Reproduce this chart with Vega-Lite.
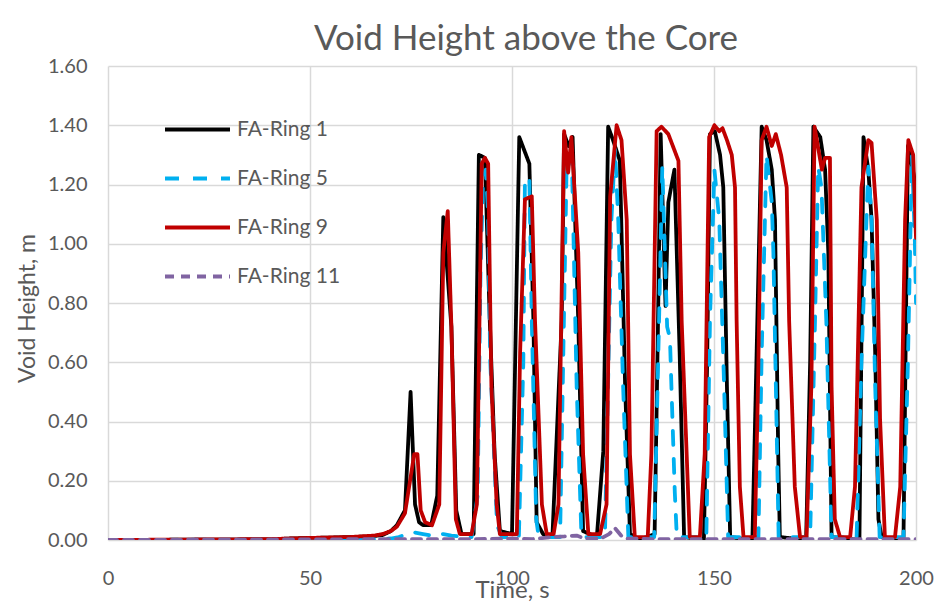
{
  "$schema": "https://vega.github.io/schema/vega-lite/v6.json",
  "width": 808,
  "height": 474,
  "autosize": {"type": "none"},
  "padding": {"left": 108, "top": 66, "right": 30, "bottom": 62},
  "background": "white",
  "config": {
    "view": {"stroke": null},
    "font": "Lato"
  },
  "title": {
    "text": "Void Height above the Core",
    "font": "Lato",
    "fontSize": 35,
    "fontWeight": "normal",
    "color": "#595959",
    "anchor": "middle",
    "dx": 14,
    "offset": -1
  },
  "data": {
    "values": [
      {"s": "FA-Ring 1", "t": 0, "v": 0},
      {"s": "FA-Ring 1", "t": 40, "v": 0.002},
      {"s": "FA-Ring 1", "t": 45, "v": 0.005},
      {"s": "FA-Ring 1", "t": 50, "v": 0.007},
      {"s": "FA-Ring 1", "t": 55, "v": 0.008},
      {"s": "FA-Ring 1", "t": 60, "v": 0.01},
      {"s": "FA-Ring 1", "t": 65, "v": 0.012},
      {"s": "FA-Ring 1", "t": 68, "v": 0.017},
      {"s": "FA-Ring 1", "t": 70, "v": 0.03},
      {"s": "FA-Ring 1", "t": 71.5, "v": 0.05},
      {"s": "FA-Ring 1", "t": 73.5, "v": 0.1},
      {"s": "FA-Ring 1", "t": 74.9, "v": 0.5},
      {"s": "FA-Ring 1", "t": 76, "v": 0.12},
      {"s": "FA-Ring 1", "t": 77, "v": 0.06},
      {"s": "FA-Ring 1", "t": 78, "v": 0.05},
      {"s": "FA-Ring 1", "t": 80, "v": 0.05},
      {"s": "FA-Ring 1", "t": 81.5, "v": 0.15},
      {"s": "FA-Ring 1", "t": 83, "v": 1.09},
      {"s": "FA-Ring 1", "t": 85, "v": 0.72},
      {"s": "FA-Ring 1", "t": 86.2, "v": 0.1},
      {"s": "FA-Ring 1", "t": 87.5, "v": 0.02},
      {"s": "FA-Ring 1", "t": 90.5, "v": 0.02},
      {"s": "FA-Ring 1", "t": 91.8, "v": 1.3},
      {"s": "FA-Ring 1", "t": 93.3, "v": 1.29},
      {"s": "FA-Ring 1", "t": 94.5, "v": 0.74},
      {"s": "FA-Ring 1", "t": 95.7, "v": 0.29},
      {"s": "FA-Ring 1", "t": 97, "v": 0.03},
      {"s": "FA-Ring 1", "t": 100, "v": 0.02},
      {"s": "FA-Ring 1", "t": 101.8, "v": 1.36},
      {"s": "FA-Ring 1", "t": 104.3, "v": 1.27},
      {"s": "FA-Ring 1", "t": 105.3, "v": 0.74},
      {"s": "FA-Ring 1", "t": 106.1, "v": 0.06},
      {"s": "FA-Ring 1", "t": 107.7, "v": 0.02},
      {"s": "FA-Ring 1", "t": 110, "v": 0.01},
      {"s": "FA-Ring 1", "t": 112.3, "v": 0.74},
      {"s": "FA-Ring 1", "t": 112.9, "v": 1.37},
      {"s": "FA-Ring 1", "t": 114, "v": 1.33},
      {"s": "FA-Ring 1", "t": 115, "v": 1.36},
      {"s": "FA-Ring 1", "t": 116.4, "v": 0.74},
      {"s": "FA-Ring 1", "t": 117.6, "v": 0.03},
      {"s": "FA-Ring 1", "t": 121, "v": 0.01},
      {"s": "FA-Ring 1", "t": 122.6, "v": 0.3},
      {"s": "FA-Ring 1", "t": 123.8, "v": 1.395},
      {"s": "FA-Ring 1", "t": 125, "v": 1.35},
      {"s": "FA-Ring 1", "t": 126.7, "v": 1.28},
      {"s": "FA-Ring 1", "t": 128, "v": 0.52},
      {"s": "FA-Ring 1", "t": 129.2, "v": 0.02},
      {"s": "FA-Ring 1", "t": 131.7, "v": 0},
      {"s": "FA-Ring 1", "t": 135.3, "v": 0.02},
      {"s": "FA-Ring 1", "t": 136.1, "v": 0.7},
      {"s": "FA-Ring 1", "t": 136.8, "v": 1.37},
      {"s": "FA-Ring 1", "t": 138, "v": 0.79},
      {"s": "FA-Ring 1", "t": 138.7, "v": 1.14},
      {"s": "FA-Ring 1", "t": 140.2, "v": 1.25},
      {"s": "FA-Ring 1", "t": 141.5, "v": 0.63},
      {"s": "FA-Ring 1", "t": 142.6, "v": 0.01},
      {"s": "FA-Ring 1", "t": 147.5, "v": 0},
      {"s": "FA-Ring 1", "t": 148.3, "v": 0.6},
      {"s": "FA-Ring 1", "t": 149, "v": 1.37},
      {"s": "FA-Ring 1", "t": 150.2, "v": 1.38},
      {"s": "FA-Ring 1", "t": 151.5, "v": 1.3},
      {"s": "FA-Ring 1", "t": 152.3, "v": 1.19},
      {"s": "FA-Ring 1", "t": 153.2, "v": 0.52},
      {"s": "FA-Ring 1", "t": 154, "v": 0.01},
      {"s": "FA-Ring 1", "t": 159.5, "v": 0},
      {"s": "FA-Ring 1", "t": 160.5, "v": 0.6},
      {"s": "FA-Ring 1", "t": 161.8, "v": 1.395},
      {"s": "FA-Ring 1", "t": 163, "v": 1.35},
      {"s": "FA-Ring 1", "t": 164.3, "v": 1.25},
      {"s": "FA-Ring 1", "t": 165.1, "v": 1.08},
      {"s": "FA-Ring 1", "t": 165.9, "v": 0.29},
      {"s": "FA-Ring 1", "t": 166.3, "v": 0.01},
      {"s": "FA-Ring 1", "t": 172.8, "v": 0},
      {"s": "FA-Ring 1", "t": 173.8, "v": 0.6},
      {"s": "FA-Ring 1", "t": 174.6, "v": 1.395},
      {"s": "FA-Ring 1", "t": 176.3, "v": 1.36},
      {"s": "FA-Ring 1", "t": 177.5, "v": 1.25},
      {"s": "FA-Ring 1", "t": 178.3, "v": 0.97},
      {"s": "FA-Ring 1", "t": 179.1, "v": 0.01},
      {"s": "FA-Ring 1", "t": 186, "v": 0},
      {"s": "FA-Ring 1", "t": 187, "v": 1.36},
      {"s": "FA-Ring 1", "t": 188.2, "v": 1.25},
      {"s": "FA-Ring 1", "t": 189, "v": 1.08},
      {"s": "FA-Ring 1", "t": 189.9, "v": 0.63},
      {"s": "FA-Ring 1", "t": 190.7, "v": 0.07},
      {"s": "FA-Ring 1", "t": 191.5, "v": 0.01},
      {"s": "FA-Ring 1", "t": 196.9, "v": 0},
      {"s": "FA-Ring 1", "t": 198, "v": 1.33},
      {"s": "FA-Ring 1", "t": 199.2, "v": 1.25},
      {"s": "FA-Ring 1", "t": 200, "v": 1.19},

      {"s": "FA-Ring 5", "t": 0, "v": 0},
      {"s": "FA-Ring 5", "t": 65, "v": 0.003},
      {"s": "FA-Ring 5", "t": 70, "v": 0.005},
      {"s": "FA-Ring 5", "t": 72, "v": 0.01},
      {"s": "FA-Ring 5", "t": 74, "v": 0.02},
      {"s": "FA-Ring 5", "t": 76, "v": 0.025},
      {"s": "FA-Ring 5", "t": 78, "v": 0.02},
      {"s": "FA-Ring 5", "t": 80, "v": 0.015},
      {"s": "FA-Ring 5", "t": 83, "v": 0.02},
      {"s": "FA-Ring 5", "t": 85, "v": 0.015},
      {"s": "FA-Ring 5", "t": 88, "v": 0.01},
      {"s": "FA-Ring 5", "t": 90, "v": 0.01},
      {"s": "FA-Ring 5", "t": 91.5, "v": 0.15},
      {"s": "FA-Ring 5", "t": 92.2, "v": 0.9},
      {"s": "FA-Ring 5", "t": 92.8, "v": 1.2},
      {"s": "FA-Ring 5", "t": 93.5, "v": 1.25},
      {"s": "FA-Ring 5", "t": 94.1, "v": 1.1},
      {"s": "FA-Ring 5", "t": 94.6, "v": 0.61},
      {"s": "FA-Ring 5", "t": 96.3, "v": 0.05},
      {"s": "FA-Ring 5", "t": 97.5, "v": 0.01},
      {"s": "FA-Ring 5", "t": 101.7, "v": 0.01},
      {"s": "FA-Ring 5", "t": 102.8, "v": 0.6},
      {"s": "FA-Ring 5", "t": 103.2, "v": 1.22},
      {"s": "FA-Ring 5", "t": 104.3, "v": 1.22},
      {"s": "FA-Ring 5", "t": 104.9, "v": 0.74},
      {"s": "FA-Ring 5", "t": 106, "v": 0.07},
      {"s": "FA-Ring 5", "t": 106.6, "v": 0.01},
      {"s": "FA-Ring 5", "t": 111.9, "v": 0.01},
      {"s": "FA-Ring 5", "t": 113.5, "v": 1.25},
      {"s": "FA-Ring 5", "t": 114.8, "v": 1.3},
      {"s": "FA-Ring 5", "t": 116, "v": 0.52},
      {"s": "FA-Ring 5", "t": 117.2, "v": 0.01},
      {"s": "FA-Ring 5", "t": 123, "v": 0.01},
      {"s": "FA-Ring 5", "t": 124.6, "v": 1.08},
      {"s": "FA-Ring 5", "t": 125.5, "v": 1.32},
      {"s": "FA-Ring 5", "t": 126.3, "v": 1.08},
      {"s": "FA-Ring 5", "t": 127.5, "v": 0.52},
      {"s": "FA-Ring 5", "t": 128.8, "v": 0.01},
      {"s": "FA-Ring 5", "t": 135.2, "v": 0.01},
      {"s": "FA-Ring 5", "t": 136.4, "v": 0.74},
      {"s": "FA-Ring 5", "t": 137.2, "v": 1.26},
      {"s": "FA-Ring 5", "t": 138, "v": 0.9},
      {"s": "FA-Ring 5", "t": 138.4, "v": 0.72},
      {"s": "FA-Ring 5", "t": 139.1, "v": 0.68},
      {"s": "FA-Ring 5", "t": 139.5, "v": 0.5},
      {"s": "FA-Ring 5", "t": 140.3, "v": 0.16},
      {"s": "FA-Ring 5", "t": 140.8, "v": 0.01},
      {"s": "FA-Ring 5", "t": 148.1, "v": 0.01},
      {"s": "FA-Ring 5", "t": 149, "v": 0.74},
      {"s": "FA-Ring 5", "t": 150.1, "v": 1.25},
      {"s": "FA-Ring 5", "t": 151.3, "v": 1.08},
      {"s": "FA-Ring 5", "t": 152.5, "v": 0.52},
      {"s": "FA-Ring 5", "t": 153.5, "v": 0.01},
      {"s": "FA-Ring 5", "t": 161, "v": 0.01},
      {"s": "FA-Ring 5", "t": 161.8, "v": 0.63},
      {"s": "FA-Ring 5", "t": 163, "v": 1.3},
      {"s": "FA-Ring 5", "t": 164.3, "v": 1.14},
      {"s": "FA-Ring 5", "t": 164.7, "v": 0.97},
      {"s": "FA-Ring 5", "t": 166, "v": 0.01},
      {"s": "FA-Ring 5", "t": 173.8, "v": 0.01},
      {"s": "FA-Ring 5", "t": 175, "v": 0.74},
      {"s": "FA-Ring 5", "t": 175.8, "v": 1.26},
      {"s": "FA-Ring 5", "t": 176.6, "v": 1.19},
      {"s": "FA-Ring 5", "t": 177.8, "v": 0.74},
      {"s": "FA-Ring 5", "t": 179.1, "v": 0.01},
      {"s": "FA-Ring 5", "t": 185.3, "v": 0.01},
      {"s": "FA-Ring 5", "t": 186.5, "v": 0.6},
      {"s": "FA-Ring 5", "t": 188.2, "v": 1.26},
      {"s": "FA-Ring 5", "t": 189, "v": 1.08},
      {"s": "FA-Ring 5", "t": 189.9, "v": 0.52},
      {"s": "FA-Ring 5", "t": 191, "v": 0.01},
      {"s": "FA-Ring 5", "t": 196.9, "v": 0.01},
      {"s": "FA-Ring 5", "t": 198, "v": 0.6},
      {"s": "FA-Ring 5", "t": 199, "v": 1.3},
      {"s": "FA-Ring 5", "t": 199.7, "v": 1.02},
      {"s": "FA-Ring 5", "t": 200, "v": 0.8},

      {"s": "FA-Ring 9", "t": 0, "v": 0},
      {"s": "FA-Ring 9", "t": 40, "v": 0.003},
      {"s": "FA-Ring 9", "t": 50, "v": 0.007},
      {"s": "FA-Ring 9", "t": 60, "v": 0.01},
      {"s": "FA-Ring 9", "t": 66, "v": 0.015},
      {"s": "FA-Ring 9", "t": 68, "v": 0.02},
      {"s": "FA-Ring 9", "t": 70, "v": 0.03},
      {"s": "FA-Ring 9", "t": 71.5, "v": 0.045},
      {"s": "FA-Ring 9", "t": 73.5, "v": 0.09},
      {"s": "FA-Ring 9", "t": 75.8, "v": 0.29},
      {"s": "FA-Ring 9", "t": 76.6, "v": 0.29},
      {"s": "FA-Ring 9", "t": 77.4, "v": 0.1},
      {"s": "FA-Ring 9", "t": 78.5, "v": 0.06},
      {"s": "FA-Ring 9", "t": 80.2, "v": 0.05},
      {"s": "FA-Ring 9", "t": 82, "v": 0.12},
      {"s": "FA-Ring 9", "t": 83, "v": 0.97},
      {"s": "FA-Ring 9", "t": 84.1, "v": 1.11},
      {"s": "FA-Ring 9", "t": 85, "v": 0.72},
      {"s": "FA-Ring 9", "t": 86.1, "v": 0.07},
      {"s": "FA-Ring 9", "t": 87.1, "v": 0.02},
      {"s": "FA-Ring 9", "t": 90, "v": 0.02},
      {"s": "FA-Ring 9", "t": 91.3, "v": 0.12},
      {"s": "FA-Ring 9", "t": 92.5, "v": 1.27},
      {"s": "FA-Ring 9", "t": 93.3, "v": 1.29},
      {"s": "FA-Ring 9", "t": 94.1, "v": 1.27},
      {"s": "FA-Ring 9", "t": 94.9, "v": 0.52},
      {"s": "FA-Ring 9", "t": 96.2, "v": 0.12},
      {"s": "FA-Ring 9", "t": 97, "v": 0.02},
      {"s": "FA-Ring 9", "t": 101.2, "v": 0.02},
      {"s": "FA-Ring 9", "t": 102, "v": 0.63},
      {"s": "FA-Ring 9", "t": 103.2, "v": 1.15},
      {"s": "FA-Ring 9", "t": 104.9, "v": 1.16},
      {"s": "FA-Ring 9", "t": 105.7, "v": 0.74},
      {"s": "FA-Ring 9", "t": 107.4, "v": 0.12},
      {"s": "FA-Ring 9", "t": 108.6, "v": 0.02},
      {"s": "FA-Ring 9", "t": 110.3, "v": 0.02},
      {"s": "FA-Ring 9", "t": 111.5, "v": 0.12},
      {"s": "FA-Ring 9", "t": 112.9, "v": 1.38},
      {"s": "FA-Ring 9", "t": 113.9, "v": 1.24},
      {"s": "FA-Ring 9", "t": 114.7, "v": 1.36},
      {"s": "FA-Ring 9", "t": 116.4, "v": 0.97},
      {"s": "FA-Ring 9", "t": 117.6, "v": 0.29},
      {"s": "FA-Ring 9", "t": 118.9, "v": 0.02},
      {"s": "FA-Ring 9", "t": 121.8, "v": 0.02},
      {"s": "FA-Ring 9", "t": 123.4, "v": 0.12},
      {"s": "FA-Ring 9", "t": 124.3, "v": 1.16},
      {"s": "FA-Ring 9", "t": 125.9, "v": 1.4},
      {"s": "FA-Ring 9", "t": 127.1, "v": 1.35},
      {"s": "FA-Ring 9", "t": 128.4, "v": 1.08},
      {"s": "FA-Ring 9", "t": 129.2, "v": 0.29},
      {"s": "FA-Ring 9", "t": 130.4, "v": 0.01},
      {"s": "FA-Ring 9", "t": 133.6, "v": 0.01},
      {"s": "FA-Ring 9", "t": 134.5, "v": 0.29},
      {"s": "FA-Ring 9", "t": 135.8, "v": 1.38},
      {"s": "FA-Ring 9", "t": 137, "v": 1.395},
      {"s": "FA-Ring 9", "t": 138.7, "v": 1.37},
      {"s": "FA-Ring 9", "t": 141.2, "v": 1.28},
      {"s": "FA-Ring 9", "t": 142, "v": 0.74},
      {"s": "FA-Ring 9", "t": 144, "v": 0.01},
      {"s": "FA-Ring 9", "t": 146.5, "v": 0.01},
      {"s": "FA-Ring 9", "t": 147.7, "v": 0.29},
      {"s": "FA-Ring 9", "t": 148.8, "v": 1.36},
      {"s": "FA-Ring 9", "t": 150.1, "v": 1.4},
      {"s": "FA-Ring 9", "t": 151.3, "v": 1.38},
      {"s": "FA-Ring 9", "t": 152.1, "v": 1.39},
      {"s": "FA-Ring 9", "t": 153.2, "v": 1.35},
      {"s": "FA-Ring 9", "t": 154.4, "v": 1.3},
      {"s": "FA-Ring 9", "t": 155.2, "v": 1.19},
      {"s": "FA-Ring 9", "t": 155.6, "v": 0.74},
      {"s": "FA-Ring 9", "t": 156.4, "v": 0.18},
      {"s": "FA-Ring 9", "t": 157.3, "v": 0.01},
      {"s": "FA-Ring 9", "t": 160.1, "v": 0.01},
      {"s": "FA-Ring 9", "t": 160.9, "v": 0.52},
      {"s": "FA-Ring 9", "t": 161.8, "v": 1.35},
      {"s": "FA-Ring 9", "t": 163, "v": 1.395},
      {"s": "FA-Ring 9", "t": 164.3, "v": 1.33},
      {"s": "FA-Ring 9", "t": 165.3, "v": 1.37},
      {"s": "FA-Ring 9", "t": 166.6, "v": 1.3},
      {"s": "FA-Ring 9", "t": 168, "v": 1.19},
      {"s": "FA-Ring 9", "t": 168.6, "v": 0.74},
      {"s": "FA-Ring 9", "t": 170, "v": 0.18},
      {"s": "FA-Ring 9", "t": 171.3, "v": 0.01},
      {"s": "FA-Ring 9", "t": 172.9, "v": 0.01},
      {"s": "FA-Ring 9", "t": 174.1, "v": 0.52},
      {"s": "FA-Ring 9", "t": 174.9, "v": 1.395},
      {"s": "FA-Ring 9", "t": 176.7, "v": 1.25},
      {"s": "FA-Ring 9", "t": 177.5, "v": 1.29},
      {"s": "FA-Ring 9", "t": 178.7, "v": 1.29},
      {"s": "FA-Ring 9", "t": 179.1, "v": 0.52},
      {"s": "FA-Ring 9", "t": 179.9, "v": 0.07},
      {"s": "FA-Ring 9", "t": 181.2, "v": 0.01},
      {"s": "FA-Ring 9", "t": 183.7, "v": 0.01},
      {"s": "FA-Ring 9", "t": 184.9, "v": 0.18},
      {"s": "FA-Ring 9", "t": 186.5, "v": 1.19},
      {"s": "FA-Ring 9", "t": 188.2, "v": 1.35},
      {"s": "FA-Ring 9", "t": 189, "v": 1.34},
      {"s": "FA-Ring 9", "t": 190.3, "v": 1.08},
      {"s": "FA-Ring 9", "t": 191.1, "v": 0.41},
      {"s": "FA-Ring 9", "t": 192.3, "v": 0.01},
      {"s": "FA-Ring 9", "t": 194.8, "v": 0.01},
      {"s": "FA-Ring 9", "t": 196.1, "v": 0.18},
      {"s": "FA-Ring 9", "t": 197.3, "v": 1.08},
      {"s": "FA-Ring 9", "t": 198.1, "v": 1.35},
      {"s": "FA-Ring 9", "t": 199.3, "v": 1.3},
      {"s": "FA-Ring 9", "t": 200, "v": 1.02},

      {"s": "FA-Ring 11", "t": 0, "v": 0},
      {"s": "FA-Ring 11", "t": 50, "v": 0.002},
      {"s": "FA-Ring 11", "t": 70, "v": 0.003},
      {"s": "FA-Ring 11", "t": 90, "v": 0.003},
      {"s": "FA-Ring 11", "t": 100, "v": 0.005},
      {"s": "FA-Ring 11", "t": 105, "v": 0.003},
      {"s": "FA-Ring 11", "t": 110, "v": 0.01},
      {"s": "FA-Ring 11", "t": 113, "v": 0.012},
      {"s": "FA-Ring 11", "t": 116, "v": 0.015},
      {"s": "FA-Ring 11", "t": 118, "v": 0.005},
      {"s": "FA-Ring 11", "t": 122, "v": 0.005},
      {"s": "FA-Ring 11", "t": 124, "v": 0.02},
      {"s": "FA-Ring 11", "t": 125.5, "v": 0.04},
      {"s": "FA-Ring 11", "t": 127, "v": 0.015},
      {"s": "FA-Ring 11", "t": 128.5, "v": 0.005},
      {"s": "FA-Ring 11", "t": 135, "v": 0.003},
      {"s": "FA-Ring 11", "t": 200, "v": 0.003}
    ]
  },
  "mark": {"type": "line", "strokeWidth": 3.8, "strokeCap": "round", "strokeJoin": "round", "clip": true},
  "encoding": {
    "x": {
      "field": "t",
      "type": "quantitative",
      "scale": {"domain": [0, 200], "nice": false},
      "axis": {
        "values": [0, 50, 100, 150, 200],
        "title": "Time, s",
        "titleFont": "Lato",
        "titleFontSize": 24,
        "titleFontWeight": "normal",
        "titleColor": "#595959",
        "titleBaseline": "middle",
        "titleY": 50,
        "labelFont": "Lato",
        "labelFontSize": 20,
        "labelColor": "#595959",
        "labelPadding": 28,
        "labelFlush": false,
        "domain": false,
        "ticks": false,
        "grid": true,
        "gridColor": "#d9d9d9",
        "gridWidth": 1.5
      }
    },
    "y": {
      "field": "v",
      "type": "quantitative",
      "scale": {"domain": [0, 1.6], "nice": false},
      "axis": {
        "values": [0, 0.2, 0.4, 0.6, 0.8, 1.0, 1.2, 1.4, 1.6],
        "format": ".2f",
        "title": "Void Height, m",
        "titleFont": "Lato",
        "titleFontSize": 23,
        "titleFontWeight": "normal",
        "titleColor": "#595959",
        "titleAngle": -90,
        "titleAlign": "center",
        "titleBaseline": "middle",
        "titleX": -81,
        "titleY": 242,
        "labelFont": "Lato",
        "labelFontSize": 20,
        "labelColor": "#595959",
        "labelPadding": 21,
        "domain": false,
        "ticks": false,
        "grid": true,
        "gridColor": "#d9d9d9",
        "gridWidth": 1.5
      }
    },
    "color": {
      "field": "s",
      "type": "nominal",
      "sort": ["FA-Ring 1", "FA-Ring 5", "FA-Ring 9", "FA-Ring 11"],
      "scale": {
        "domain": ["FA-Ring 1", "FA-Ring 5", "FA-Ring 9", "FA-Ring 11"],
        "range": ["#000000", "#00b0f0", "#c00000", "#8064a2"]
      },
      "legend": {
        "title": null,
        "orient": "none",
        "legendX": 55,
        "legendY": 29,
        "symbolType": "stroke",
        "symbolSize": 4225,
        "symbolStrokeWidth": 4,
        "labelFont": "Lato",
        "labelFontSize": 21,
        "labelColor": "#595959",
        "labelOffset": 5,
        "rowPadding": 4,
        "padding": 0
      }
    },
    "strokeDash": {
      "field": "s",
      "type": "nominal",
      "sort": ["FA-Ring 1", "FA-Ring 5", "FA-Ring 9", "FA-Ring 11"],
      "scale": {
        "domain": ["FA-Ring 1", "FA-Ring 5", "FA-Ring 9", "FA-Ring 11"],
        "range": [[1, 0], [14, 14], [1, 0], [9, 7]]
      },
      "legend": {
        "title": null,
        "orient": "none",
        "legendX": 55,
        "legendY": 29,
        "symbolType": "stroke",
        "symbolSize": 4225,
        "symbolStrokeWidth": 4,
        "labelFont": "Lato",
        "labelFontSize": 21,
        "labelColor": "#595959",
        "labelOffset": 5,
        "rowPadding": 4,
        "padding": 0
      }
    }
  }
}
